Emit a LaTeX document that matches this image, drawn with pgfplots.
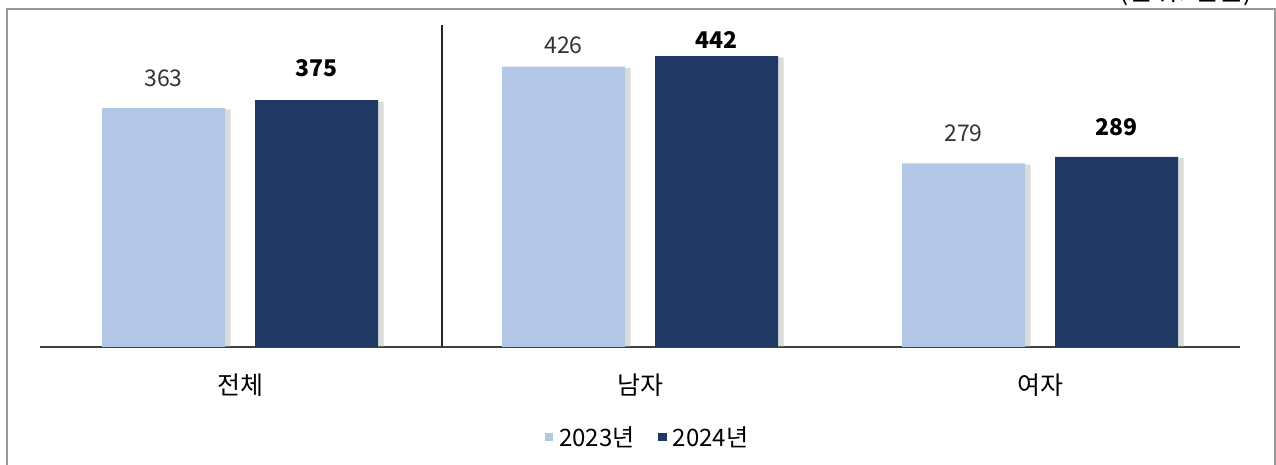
\documentclass[border=0pt]{standalone}
\usepackage{fontspec}
\setmainfont{Noto Sans CJK KR}
\usepackage{pgfplots}
\usepackage{pgfplotstable}
\pgfplotsset{compat=1.18}

\definecolor{c23}{RGB}{180,199,231}
\definecolor{c24}{RGB}{31,56,100}

% value, label offset (pt)
\pgfplotstableread{
x y off
0 363 7
1 426 3
2 279 7.5
}\yearA
\pgfplotstableread{
x y off
0 375 8
1 442 0.5
2 289 7
}\yearB

\begin{document}
\begin{tikzpicture}
\useasboundingbox (0pt,0pt) rectangle (638pt,232.5pt);
% outer frame
\draw[black!40, line width=0.9pt] (3.5pt,-3pt) -- (3.5pt,228pt) -- (637.3pt,228pt) -- (637.3pt,-3pt);
\node[anchor=base east, font=\fontsize{13.5}{15}\selectfont] at (630pt,232pt) {(단위: 만원)};

\begin{axis}[
    at={(20pt,59pt)}, anchor=south west,
    scale only axis,
    width=600pt, height=164.5pt,
    xmin=-0.5, xmax=2.5,
    ymin=0, ymax=500,
    axis x line=bottom,
    axis y line=none,
    axis line style={black!75, line width=0.7pt, -},
    xtick={0,1,2},
    xticklabels={전체,남자,여자},
    major tick length=0pt,
    xticklabel style={font=\fontsize{12.5}{14}\selectfont, yshift=-10pt},
    ybar, bar width=61.5pt,
    /pgf/number format/assume math mode=true,
    legend style={at={(0.507,-0.277)}, anchor=center, draw=none,
        font=\fontsize{12}{14}\selectfont,
        /tikz/every odd column/.append style={column sep=1pt},
        /tikz/every even column/.append style={column sep=10pt}},
    legend columns=2,
    visualization depends on={\thisrow{off} \as \myoff},
    nodes near coords style={font=\fontsize{11.5}{13}\selectfont, text=black!80, yshift=\myoff pt},
]
% soft shadows on the right side of each bar
\addplot[forget plot, draw=none, fill=black!35, fill opacity=0.4, bar shift=-35.5pt]
    table[x=x, y expr=\thisrow{y}-2] {\yearA};
\addplot[forget plot, draw=none, fill=black!35, fill opacity=0.4, bar shift=41pt]
    table[x=x, y expr=\thisrow{y}-2] {\yearB};

\addplot[draw=none, fill=c23, bar shift=-38.25pt, nodes near coords,
    legend image code/.code={\fill[c23] (0pt,-1.4pt) rectangle (4.2pt,2.8pt);}]
    table[x=x, y=y] {\yearA};
\addplot[draw=none, fill=c24, bar shift=38.25pt, nodes near coords,
    nodes near coords style={font=\fontsize{11.5}{13}\selectfont\bfseries, text=black},
    legend image code/.code={\fill[c24] (0pt,-1.4pt) rectangle (4.2pt,2.8pt);}]
    table[x=x, y=y] {\yearB};
\legend{2023년, 2024년}

\draw[black!85, line width=0.7pt] (axis cs:0.505,0) -- (axis cs:0.505,489);
\end{axis}
\end{tikzpicture}
\end{document}
